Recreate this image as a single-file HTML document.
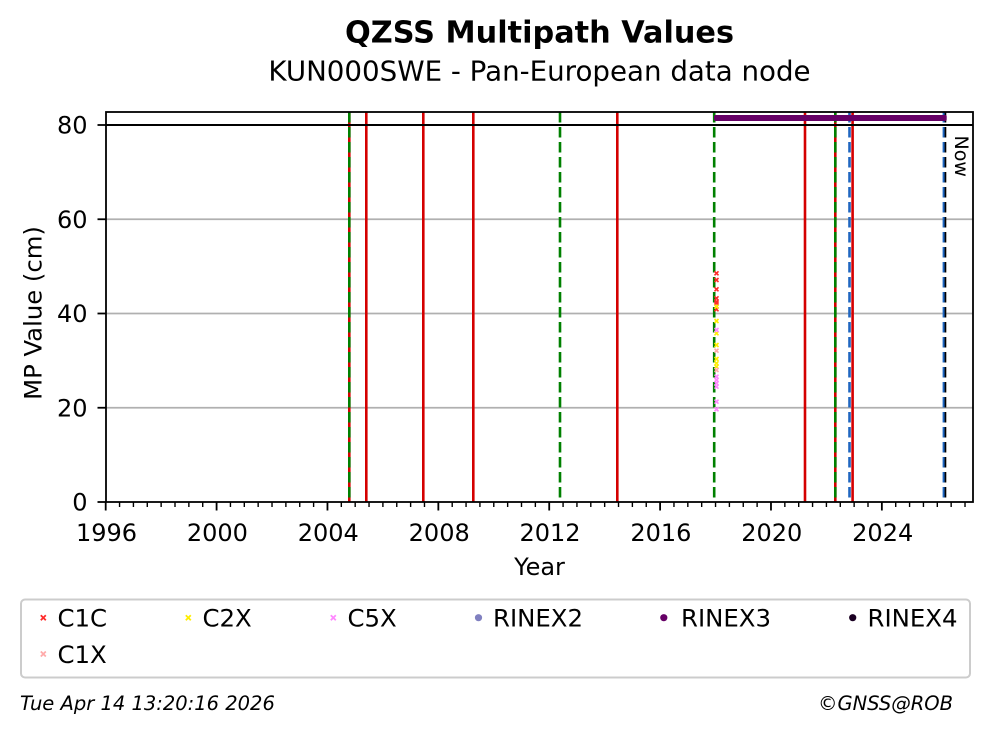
<!DOCTYPE html>
<html>
<head>
<meta charset="utf-8">
<style>
html,body{margin:0;padding:0;background:#fff;}
svg{display:block;}
text{font-family:"DejaVu Sans","Liberation Sans",sans-serif;fill:#000;}
</style>
</head>
<body>
<svg width="992" height="734" viewBox="0 0 992 734" xmlns="http://www.w3.org/2000/svg">
<rect x="0" y="0" width="992" height="734" fill="#fff"/>

<!-- Titles -->
<text x="539.5" y="42.5" text-anchor="middle" font-weight="bold" font-size="30.3">QZSS Multipath Values</text>
<text x="539.5" y="80.3" text-anchor="middle" font-size="27.7">KUN000SWE - Pan-European data node</text>

<!-- gridlines -->
<g stroke="#b0b0b0" stroke-width="1.8">
<line x1="106" y1="219.25" x2="973" y2="219.25"/>
<line x1="106" y1="313.5" x2="973" y2="313.5"/>
<line x1="106" y1="407.75" x2="973" y2="407.75"/>
</g>

<!-- vertical event lines -->
<g stroke-width="2.6">
<line x1="349.3" y1="112" x2="349.3" y2="502" stroke="#d40000"/>
<line x1="349.3" y1="112" x2="349.3" y2="502" stroke="#008000" stroke-dasharray="10.5 4.5"/>
<line x1="366.3" y1="112" x2="366.3" y2="502" stroke="#d40000"/>
<line x1="423.3" y1="112" x2="423.3" y2="502" stroke="#d40000"/>
<line x1="473.3" y1="112" x2="473.3" y2="502" stroke="#d40000"/>
<line x1="560" y1="112" x2="560" y2="502" stroke="#008000" stroke-dasharray="10.5 4.5"/>
<line x1="617.3" y1="112" x2="617.3" y2="502" stroke="#d40000"/>
<line x1="714.2" y1="112" x2="714.2" y2="502" stroke="#008000" stroke-dasharray="10.5 4.5"/>
<line x1="805" y1="112" x2="805" y2="502" stroke="#d40000"/>
<line x1="835.3" y1="112" x2="835.3" y2="502" stroke="#d40000"/>
<line x1="835.3" y1="112" x2="835.3" y2="502" stroke="#008000" stroke-dasharray="10.5 4.5"/>
<line x1="849.5" y1="112" x2="849.5" y2="502" stroke="#1f66c0" stroke-dasharray="10.5 4.5"/>
<line x1="852.6" y1="112" x2="852.6" y2="502" stroke="#d40000"/>
<line x1="945" y1="112" x2="945" y2="502" stroke="#000" stroke-dasharray="10.5 4.5"/>
<line x1="943.6" y1="112" x2="943.6" y2="502" stroke="#1f66c0" stroke-dasharray="10.5 4.5" stroke-width="2"/>
</g>

<!-- black line at 80 -->
<line x1="106" y1="125" x2="973" y2="125" stroke="#000" stroke-width="2"/>

<!-- purple bar -->
<rect x="714" y="115" width="232.7" height="6" fill="#660066" rx="1.5"/>

<!-- scatter points -->
<g stroke-width="1.6" fill="none">
<g stroke="#ff2a2a">
<path d="M714.5 271.3l4 4M718.5 271.3l-4 4"/>
<path d="M714.5 278l4 4M718.5 278l-4 4"/>
<path d="M714.5 287.3l4 4M718.5 287.3l-4 4"/>
<path d="M714.5 296.3l4 4M718.5 296.3l-4 4"/>
<path d="M714.5 299.7l4 4M718.5 299.7l-4 4"/>
<path d="M714.5 301.3l4 4M718.5 301.3l-4 4"/>
<path d="M714.5 304.7l4 4M718.5 304.7l-4 4"/>
<path d="M714.5 307.3l4 4M718.5 307.3l-4 4"/>
</g>
<g stroke="#ffee00">
<path d="M714.5 304.7l4 4M718.5 304.7l-4 4"/>
<path d="M714.5 319l4 4M718.5 319l-4 4"/>
<path d="M714.5 331.3l4 4M718.5 331.3l-4 4"/>
<path d="M714.5 343l4 4M718.5 343l-4 4"/>
<path d="M714.5 357l4 4M718.5 357l-4 4"/>
<path d="M714.5 361.3l4 4M718.5 361.3l-4 4"/>
<path d="M714.5 364.7l4 4M718.5 364.7l-4 4"/>
</g>
<g stroke="#ffaaaa">
<path d="M714.5 348.7l4 4M718.5 348.7l-4 4"/>
<path d="M714.5 368l4 4M718.5 368l-4 4"/>
</g>
<g stroke="#ff88ff">
<path d="M714.5 328l4 4M718.5 328l-4 4"/>
<path d="M714.5 374.7l4 4M718.5 374.7l-4 4"/>
<path d="M714.5 378l4 4M718.5 378l-4 4"/>
<path d="M714.5 381.3l4 4M718.5 381.3l-4 4"/>
<path d="M714.5 384.7l4 4M718.5 384.7l-4 4"/>
<path d="M714.5 399.7l4 4M718.5 399.7l-4 4"/>
<path d="M714.5 407.3l4 4M718.5 407.3l-4 4"/>
</g>
</g>

<!-- Now label -->
<text x="955" y="135.5" font-size="19" transform="rotate(90 955 135.5)">Now</text>

<!-- axes spines -->
<rect x="106" y="112" width="867" height="390" fill="none" stroke="#000" stroke-width="1.8"/>

<!-- y ticks -->
<g stroke="#000" stroke-width="1.8">
<line x1="97.5" y1="502" x2="106" y2="502"/>
<line x1="97.5" y1="407.75" x2="106" y2="407.75"/>
<line x1="97.5" y1="313.5" x2="106" y2="313.5"/>
<line x1="97.5" y1="219.25" x2="106" y2="219.25"/>
<line x1="97.5" y1="125" x2="106" y2="125"/>
</g>
<g font-size="24" text-anchor="end">
<text x="87.5" y="510.7">0</text>
<text x="87.5" y="416.5">20</text>
<text x="87.5" y="322.2">40</text>
<text x="87.5" y="228">60</text>
<text x="87.5" y="133.7">80</text>
</g>

<!-- x ticks -->
<path stroke="#000" stroke-width="1.8" fill="none" d="M105.7 502v8.5M216.58 502v8.5M327.46 502v8.5M438.34 502v8.5M549.22 502v8.5M660.1 502v8.5M770.98 502v8.5M881.86 502v8.5"/>
<path stroke="#000" stroke-width="1.4" fill="none" d="M119.56 502v5M133.42 502v5M147.28 502v5M161.14 502v5M175 502v5M188.86 502v5M202.72 502v5M230.44 502v5M244.3 502v5M258.16 502v5M272.02 502v5M285.88 502v5M299.74 502v5M313.6 502v5M341.32 502v5M355.18 502v5M369.04 502v5M382.9 502v5M396.76 502v5M410.62 502v5M424.48 502v5M452.2 502v5M466.06 502v5M479.92 502v5M493.78 502v5M507.64 502v5M521.5 502v5M535.36 502v5M563.08 502v5M576.94 502v5M590.8 502v5M604.66 502v5M618.52 502v5M632.38 502v5M646.24 502v5M673.96 502v5M687.82 502v5M701.68 502v5M715.54 502v5M729.4 502v5M743.26 502v5M757.12 502v5M784.84 502v5M798.7 502v5M812.56 502v5M826.42 502v5M840.28 502v5M854.14 502v5M868 502v5M895.72 502v5M909.58 502v5M923.44 502v5M937.3 502v5M951.16 502v5M965.02 502v5"/>
<g font-size="24" text-anchor="middle">
<text x="106.5" y="541">1996</text>
<text x="217.4" y="541">2000</text>
<text x="328.3" y="541">2004</text>
<text x="439.2" y="541">2008</text>
<text x="550" y="541">2012</text>
<text x="660.9" y="541">2016</text>
<text x="771.8" y="541">2020</text>
<text x="882.7" y="541">2024</text>
</g>

<!-- axis labels -->
<text x="539.5" y="575" font-size="24" text-anchor="middle">Year</text>
<text x="41.5" y="313" font-size="24.3" text-anchor="middle" transform="rotate(-90 41.5 313)">MP Value (cm)</text>

<!-- legend -->
<rect x="21" y="599.5" width="949" height="78" rx="4" ry="4" fill="#fff" stroke="#cccccc" stroke-width="2"/>
<g stroke-width="1.8" fill="none">
<path stroke="#ff2a2a" d="M40.8 615.2l5 5M45.8 615.2l-5 5"/>
<path stroke="#ffee00" d="M185.8 615.2l5 5M190.8 615.2l-5 5"/>
<path stroke="#ff88ff" d="M330.8 615.2l5 5M335.8 615.2l-5 5"/>
<path stroke="#ffaaaa" d="M40.8 651.5l5 5M45.8 651.5l-5 5"/>
</g>
<circle cx="478.5" cy="617.7" r="3.6" fill="#8080c0"/>
<circle cx="663.8" cy="617.7" r="3.6" fill="#660066"/>
<circle cx="852.7" cy="617.7" r="3.6" fill="#1a0022"/>
<g font-size="24.4">
<text x="57.5" y="626.5">C1C</text>
<text x="202.5" y="626.5">C2X</text>
<text x="347.5" y="626.5">C5X</text>
<text x="493" y="626.5">RINEX2</text>
<text x="681" y="626.5">RINEX3</text>
<text x="867.5" y="626.5">RINEX4</text>
<text x="57.5" y="663">C1X</text>
</g>

<!-- footer -->
<text x="20" y="710" font-size="19.5" font-style="italic">Tue Apr 14 13:20:16 2026</text>
<text x="953" y="710" font-size="19.5" font-style="italic" text-anchor="end">©GNSS@ROB</text>
</svg>
</body>
</html>
